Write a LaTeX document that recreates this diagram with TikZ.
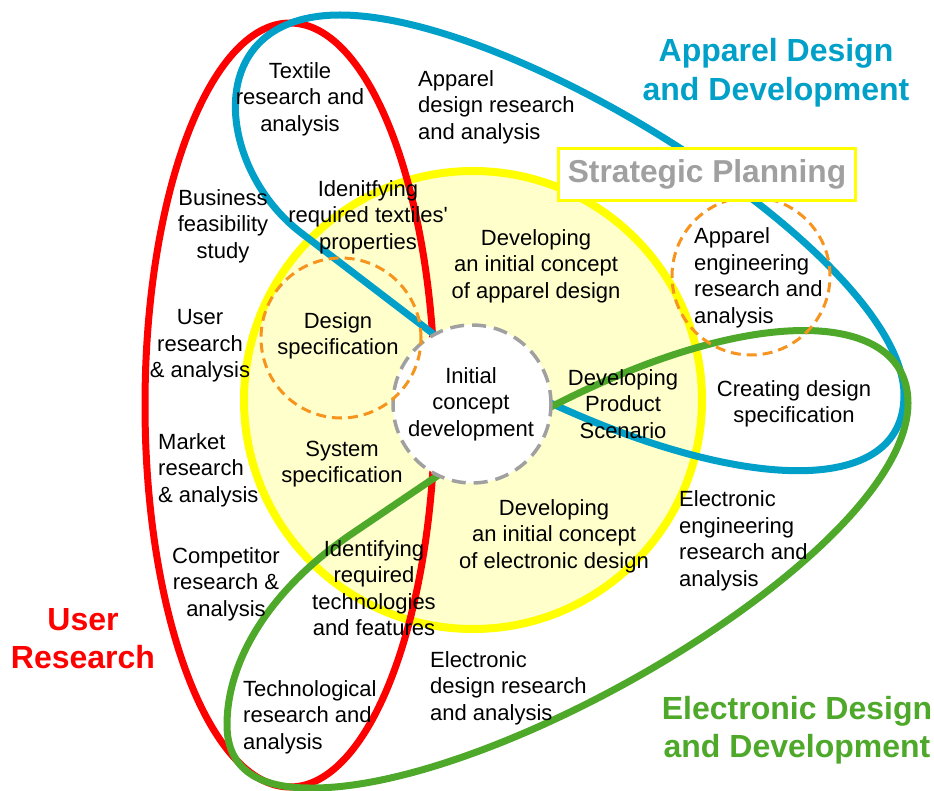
\documentclass[tikz,border=0pt]{standalone}
\usepackage{fontspec}
\setmainfont{Liberation Sans}
\usetikzlibrary{positioning}
\definecolor{userred}{HTML}{FF0000}
\definecolor{apparelblue}{HTML}{00A0C8}
\definecolor{electrogreen}{HTML}{4EA82A}
\definecolor{planyellow}{HTML}{FFFF00}
\definecolor{planfill}{HTML}{FFFFCC}
\definecolor{suborange}{HTML}{F7941D}
\definecolor{coregray}{HTML}{A0A0A0}
\tikzset{
    area line/.style = {
        line width=7pt,
        },
    sub area/.style = {
        draw = suborange,
        line width=3pt,
        dash pattern=on 10pt off 6pt,
        },
    stage/.style = {
        font=\fontsize{22}{26.5}\selectfont,
        align=center,
        inner sep=0pt,
        },
    stage left/.style = {
        stage,
        align=left,
        anchor=west,
        },
    area title/.style = {
        font=\fontsize{32}{38.5}\selectfont\bfseries,
        align=center,
        inner sep=0pt,
        },
}
\begin{document}
\begin{tikzpicture}[x=1pt, y=-1pt]
            \useasboundingbox (0,0) rectangle (934,791);
            \draw[line width=8pt, draw=planyellow, fill=planfill] (473,400) circle [radius=229pt];

            \coordinate (blue tip) at (470,362);
            \coordinate (green tip) at (480,447);

            \draw[area line, userred] (290,405) ellipse [x radius=145pt, y radius=382pt];
            \draw[area line, apparelblue] (blue tip) -- (300,232)
                .. controls (215,166) and (200,15) .. (340,15)
                .. controls (520,15) and (904,260) .. (904,395)
                .. controls (904,510) and (700,490) .. (blue tip);
            \draw[area line, electrogreen] (green tip) -- (350,535)
                .. controls (270,590) and (227,660) .. (227,725)
                .. controls (227,770) and (260,788) .. (310,788)
                .. controls (500,790) and (908,550) .. (908,403)
                .. controls (908,300) and (720,300) .. (green tip);

            \draw[line width=3.5pt, draw=coregray, fill=white, dash pattern=on 14pt off 8pt] (472,404) circle [radius=79pt];
            \draw[sub area] (341,338) circle [radius=80pt];
            \draw[sub area] (751,276) circle [radius=79pt];

            \node[draw=planyellow, line width=3.5pt, fill=white, minimum width=297pt, minimum height=52pt,
                text=coregray, font=\fontsize{31.7}{38}\selectfont\bfseries] (plan) at (707,174.5) {Strategic Planning};

            \node[area title, text=apparelblue] (apparel) at (776,72.5) {Apparel Design\\and Development};
            \node[area title, text=electrogreen] (electro) at (797,730) {Electronic Design\\and Development};
            \node[area title, text=userred] (user) at (83,638.5) {User\\Research};

            \node[stage] (core) at (471,404) {Initial\\concept\\development};
            \node[stage] (textile) at (300,99) {Textile\\research and\\analysis};
            \node[stage left] (appres) at (418,107) {Apparel\\design research\\and analysis};
            \node[stage] (business) at (223,226) {Business\\feasibility\\study};
            \node[stage] (textprop) at (368,217) {Idenitfying\\required textiles\textquotesingle\\properties};
            \node[stage] (designspec) at (338,336) {Design\\specification};
            \node[stage] (userres) at (200,346) {User\\research\\\& analysis};
            \node[stage left] (market) at (158,470) {Market\\research\\\& analysis};
            \node[stage] (competitor) at (226,584) {Competitor\\research \&\\analysis};
            \node[stage] (systemspec) at (342,464) {System\\specification};
            \node[stage] (techfeat) at (374,588) {Identifying\\required\\technologies\\and features};
            \node[stage left] (techres) at (243,717) {Technological\\research and\\analysis};
            \node[stage left] (elecres) at (430,688) {Electronic\\design research\\and analysis};
            \node[stage] (devapp) at (536,266) {Developing\\an initial concept\\of apparel design};
            \node[stage] (scenario) at (623,404) {Developing\\Product\\Scenario};
            \node[stage] (develec) at (554,536) {Developing\\an initial concept\\of electronic design};
            \node[stage left] (appeng) at (694,278) {Apparel\\engineering\\research and\\analysis};
            \node[stage] (creating) at (794,404) {Creating design\\specification};
            \node[stage left] (eleceng) at (679,541) {Electronic\\engineering\\research and\\analysis};
        \end{tikzpicture}
\end{document}
